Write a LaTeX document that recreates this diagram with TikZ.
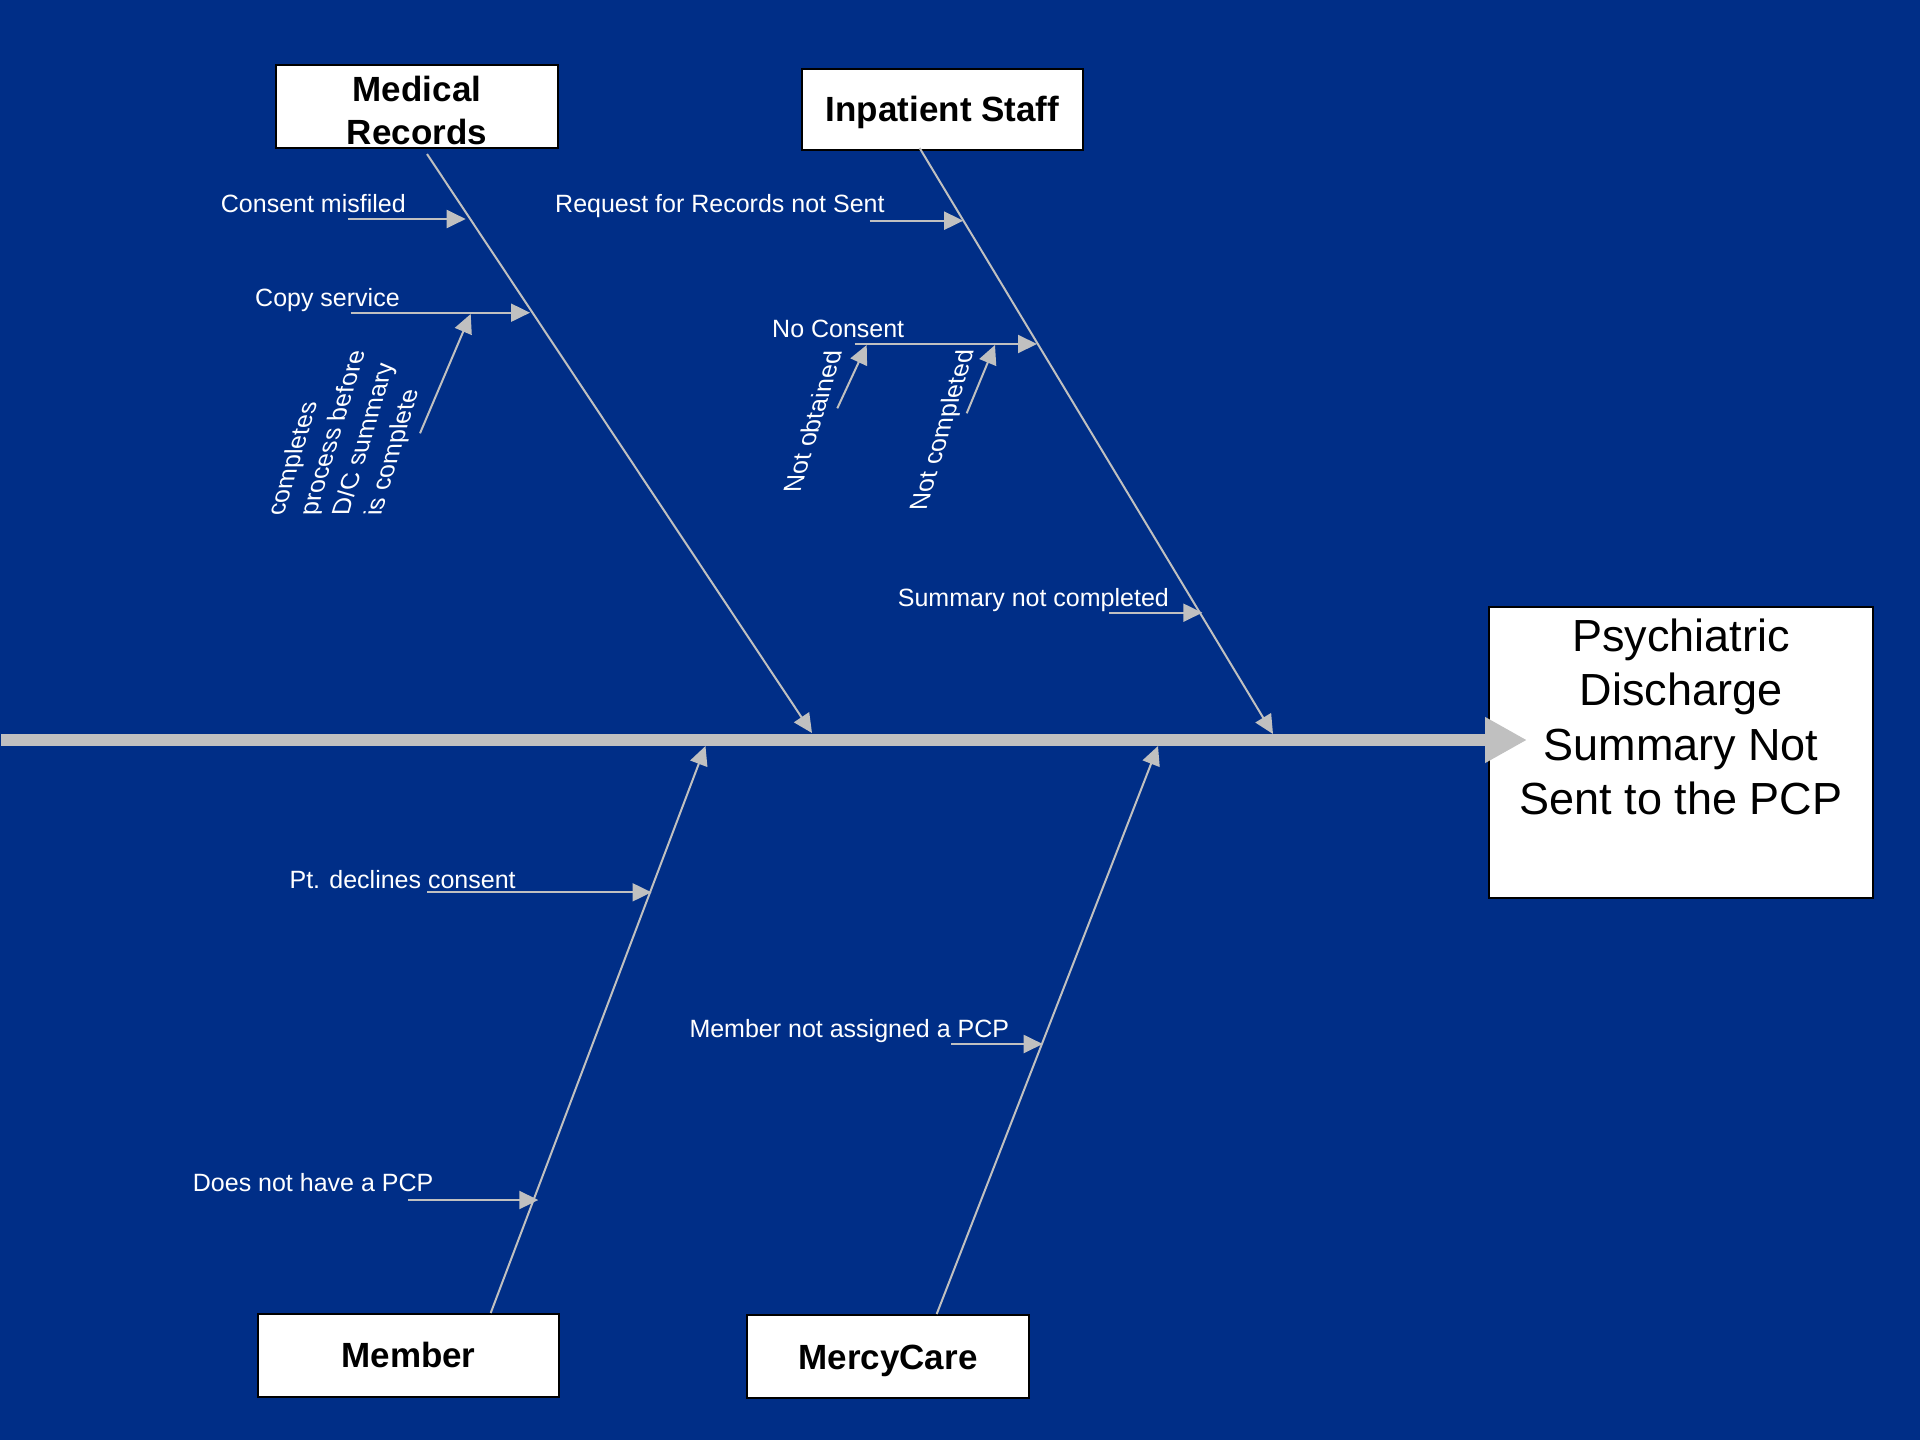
\documentclass[tikz,border=0pt]{standalone}
\usepackage{fontspec}
\setmainfont{Liberation Sans}
\usepackage{graphicx}
\usetikzlibrary{arrows.meta}
\definecolor{bgblue}{RGB}{0,46,135}
\definecolor{silver}{RGB}{192,192,192}
\begin{document}
\begin{tikzpicture}[x=1pt,y=-1pt,
  spine/.style={draw=silver, line width=12pt, -{Triangle[length=42pt,width=43pt]}},
  branch/.style={draw=silver, line width=2pt, -{Triangle[length=19pt,width=18pt]}},
  causebox/.style={draw=black, line width=2pt, fill=white, inner sep=0pt, anchor=north west,
    font=\fontsize{35}{43}\selectfont\bfseries},
  effbox/.style={draw=black, line width=2pt, fill=white, inner sep=0pt, anchor=north west,
    font=\fontsize{45}{54.5}\selectfont},
  lbl/.style={text=white, inner sep=0pt, anchor=base west, font=\fontsize{25}{30}\selectfont},
  slbl/.style={text=white, inner sep=0pt, anchor=base west, transform shape,
    font=\fontsize{25}{32.5}\selectfont}
]
\useasboundingbox (0,0) rectangle (1920,1440);
\fill[bgblue] (0,0) rectangle (1920,1440);

% cause boxes and effect
\node[causebox] (mr) at (275,64.3) {\parbox[t][83pt][t]{282pt}{\centering\rule{0pt}{35.7pt}Medical\\Records}};
\node[causebox] (is) at (801,68) {\parbox[t][81pt][t]{281pt}{\centering\rule{0pt}{52pt}Inpatient Staff}};
\node[causebox] (mem) at (257,1313) {\parbox[t][83pt][t]{301pt}{\centering\rule{0pt}{53pt}Member}};
\node[causebox] (mc) at (746,1314) {\parbox[t][83pt][t]{282pt}{\centering\rule{0pt}{54.3pt}MercyCare}};
\node[effbox] (eff) at (1488,606) {\parbox[t][291pt][t]{384pt}{\centering\rule{0pt}{44pt}Psychiatric\\Discharge\\Summary Not\\Sent to the PCP}};

% spine
\coordinate (tail) at (1,740);
\coordinate (head) at (1527,740);
\draw[spine] (tail) -- (head);

% main branches
\coordinate (mrS) at (427,154);   \coordinate (mrE) at (812,733);
\coordinate (isS) at (919.6,148); \coordinate (isE) at (1273,734);
\coordinate (memS) at (490.7,1313); \coordinate (memE) at (705.5,746);
\coordinate (mcS) at (936.7,1314);  \coordinate (mcE) at (1158,746);
\draw[branch] (mrS) -- (mrE);
\draw[branch] (isS) -- (isE);
\draw[branch] (memS) -- (memE);
\draw[branch] (mcS) -- (mcE);

% labels
\node[lbl] (l1) at (220.7,212.7) {Consent misfiled};
\node[lbl] (l2) at (255,306.7) {Copy service};
\node[lbl] (l3) at (555,212.7) {Request for Records not Sent};
\node[lbl] (l4) at (772,337.3) {No Consent};
\node[lbl] (l5) at (897.7,606.7) {Summary not completed};
\node[lbl] (l6) at (289.4,888.3) {Pt. declines consent};
\node[lbl] (l7) at (689.3,1037.3) {Member not assigned a PCP};
\node[lbl] (l8) at (192.7,1191.7) {Does not have a PCP};

% rotated (slanted) labels
\begin{scope}[shift={(283.3,516)}, xslant=0.3, rotate=90]
  \node[slbl] (s1) at (0,0) {\parbox[t]{200pt}{\raggedright completes\\process before\\D/C summary\\is complete}};
\end{scope}
\begin{scope}[shift={(800,493)}, xslant=0.3, rotate=90]
  \node[slbl] (s2) at (0,0) {Not obtained};
\end{scope}
\begin{scope}[shift={(926,511)}, xslant=0.3, rotate=90]
  \node[slbl] (s3) at (0,0) {Not completed};
\end{scope}

% small arrows
\coordinate (a1s) at (347.7,219);   \coordinate (a1e) at (465.7,219);
\coordinate (a2s) at (350.7,312.7); \coordinate (a2e) at (530,312.7);
\coordinate (a3s) at (869.5,220.7); \coordinate (a3e) at (963.2,220.7);
\coordinate (a4s) at (854.5,344);   \coordinate (a4e) at (1037,344);
\coordinate (a5s) at (1109.3,612.7);\coordinate (a5e) at (1202.3,612.7);
\coordinate (a6s) at (427.1,892.3); \coordinate (a6e) at (651.5,892.3);
\coordinate (a7s) at (951,1044);    \coordinate (a7e) at (1042.7,1044);
\coordinate (a8s) at (408.3,1200);  \coordinate (a8e) at (538.3,1200);
\draw[branch] (a1s) -- (a1e);
\draw[branch] (a2s) -- (a2e);
\draw[branch] (a3s) -- (a3e);
\draw[branch] (a4s) -- (a4e);
\draw[branch] (a5s) -- (a5e);
\draw[branch] (a6s) -- (a6e);
\draw[branch] (a7s) -- (a7e);
\draw[branch] (a8s) -- (a8e);

% sub arrows
\coordinate (b1s) at (420,433.3);   \coordinate (b1e) at (470.7,314);
\coordinate (b2s) at (837.3,408.3); \coordinate (b2e) at (866.7,345);
\coordinate (b3s) at (966.7,413.3); \coordinate (b3e) at (995,345);
\draw[branch] (b1s) -- (b1e);
\draw[branch] (b2s) -- (b2e);
\draw[branch] (b3s) -- (b3e);
\end{tikzpicture}
\end{document}
